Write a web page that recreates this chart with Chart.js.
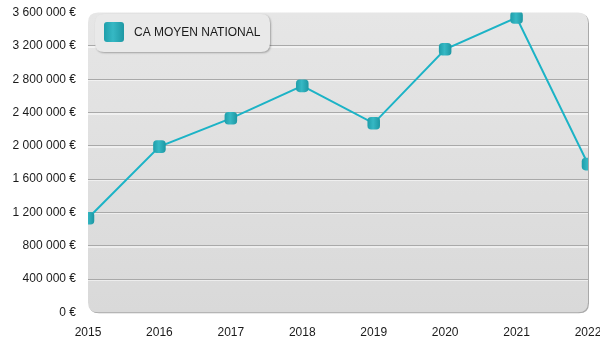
<!DOCTYPE html>
<html>
<head>
<meta charset="utf-8">
<script src="https://cdn.jsdelivr.net/npm/chart.js@4/dist/chart.umd.min.js"></script>
<style>
  html, body { margin: 0; padding: 0; background: #fff; }
  #wrap { width: 600px; height: 350px; }
</style>
</head>
<body>
<div id="wrap"><canvas id="chart"></canvas></div>
<script>
const years = ['2015', '2016', '2017', '2018', '2019', '2020', '2021', '2022'];
const caMoyen = [1130000, 1990000, 2330000, 2720000, 2270000, 3160000, 3540000, 1780000];
const seriesLabel = 'CA MOYEN NATIONAL';
const yMax = 3600000;
const yStep = 400000;

Chart.defaults.font.family = '"Liberation Sans", Arial, sans-serif';
Chart.defaults.font.size = 12;
Chart.defaults.color = '#1a1a1a';

function euro(v) {
    return String(v).replace(/\B(?=(\d{3})+(?!\d))/g, ' ') + ' €';
}

function roundRect(ctx, x, y, w, h, r) {
    ctx.beginPath();
    ctx.moveTo(x + r, y);
    ctx.lineTo(x + w - r, y);
    ctx.quadraticCurveTo(x + w, y, x + w, y + r);
    ctx.lineTo(x + w, y + h - r);
    ctx.quadraticCurveTo(x + w, y + h, x + w - r, y + h);
    ctx.lineTo(x + r, y + h);
    ctx.quadraticCurveTo(x, y + h, x, y + h - r);
    ctx.lineTo(x, y + r);
    ctx.quadraticCurveTo(x, y, x + r, y);
    ctx.closePath();
}

function tealGradient(ctx, x0, x1) {
    const g = ctx.createLinearGradient(x0, 0, x1, 0);
    g.addColorStop(0, '#1f9fab');
    g.addColorStop(0.45, '#36b8c4');
    g.addColorStop(1, '#1e98a4');
    return g;
}

// rounded grey panel behind the plot, with embossed grid lines
const panelPlugin = {
    id: 'panel',
    beforeDraw(chart) {
        const { ctx, chartArea: a } = chart;
        ctx.save();
        ctx.fillStyle = '#a9a9a9';
        roundRect(ctx, a.left + 1, a.top + 1, a.right - a.left, a.bottom - a.top, 10);
        ctx.fill();
        const g = ctx.createLinearGradient(0, a.top, 0, a.bottom);
        g.addColorStop(0, '#e6e6e6');
        g.addColorStop(1, '#d9d9d9');
        ctx.fillStyle = g;
        roundRect(ctx, a.left, a.top, a.right - a.left, a.bottom - a.top, 10);
        ctx.fill();
        // white highlight under each grid line
        const y = chart.scales.y;
        ctx.fillStyle = '#ffffff';
        y.ticks.forEach((t, i) => {
            if (i === 0 || i === y.ticks.length - 1) return;
            const py = Math.round(y.getPixelForValue(t.value));
            ctx.fillRect(a.left, py + 0.5, a.right - a.left, 1);
        });
        ctx.restore();
    },
    afterDraw(chart) {
        const { ctx } = chart;
        const bx = 95, by = 14, bw = 175, bh = 38;
        ctx.save();
        ctx.shadowColor = 'rgba(0,0,0,0.3)';
        ctx.shadowBlur = 2;
        ctx.shadowOffsetX = 1;
        ctx.shadowOffsetY = 1;
        ctx.fillStyle = '#e9e9e9';
        roundRect(ctx, bx, by, bw, bh, 9);
        ctx.fill();
        ctx.shadowColor = 'transparent';
        ctx.fillStyle = tealGradient(ctx, 104, 124);
        roundRect(ctx, 104, 22, 20, 20, 3);
        ctx.fill();
        ctx.fillStyle = '#1a1a1a';
        ctx.font = '12px "Liberation Sans", Arial, sans-serif';
        ctx.textBaseline = 'middle';
        ctx.fillText(chart.data.datasets[0].label, 134, 33);
        ctx.restore();
    }
};

new Chart(document.getElementById('chart'), {
    type: 'line',
    data: {
        labels: years,
        datasets: [{
            label: seriesLabel,
            data: caMoyen,
            clip: 0,
            borderColor: '#1cb3c6',
            borderWidth: 2,
            tension: 0,
            pointStyle: 'rectRounded',
            pointRadius: 7.3,
            pointHoverRadius: 7.3,
            pointBorderWidth: 0,
            pointBackgroundColor: (c) => {
                const xs = c.chart.scales.x;
                if (!xs || c.dataIndex === undefined) return '#29a9b5';
                const px = xs.getPixelForValue(c.dataIndex);
                if (!isFinite(px)) return '#29a9b5';
                return tealGradient(c.chart.ctx, px - 6, px + 6);
            }
        }]
    },
    options: {
        responsive: true,
        maintainAspectRatio: false,
        animation: false,
        layout: { padding: { top: 12.6, left: 0, right: 0, bottom: 0 } },
        plugins: {
            legend: { display: false },
            tooltip: { enabled: false }
        },
        scales: {
            x: {
                offset: false,
                grid: { display: false, drawTicks: false },
                border: { display: false },
                ticks: { padding: 13, maxRotation: 0, autoSkip: false },
                afterFit(s) { s.height = 37.7; s.paddingRight = 12; }
            },
            y: {
                min: 0,
                max: yMax,
                grid: {
                    drawTicks: false,
                    color: (c) => (c.index === 0 || c.index === 9) ? 'transparent' : '#a9a9a9'
                },
                border: { display: false },
                ticks: { stepSize: yStep, padding: 12, callback: (v) => euro(v) },
                afterFit(s) { s.width = 88; s.paddingTop = 0; s.paddingBottom = 0; }
            }
        }
    },
    plugins: [panelPlugin]
});
</script>
</body>
</html>
